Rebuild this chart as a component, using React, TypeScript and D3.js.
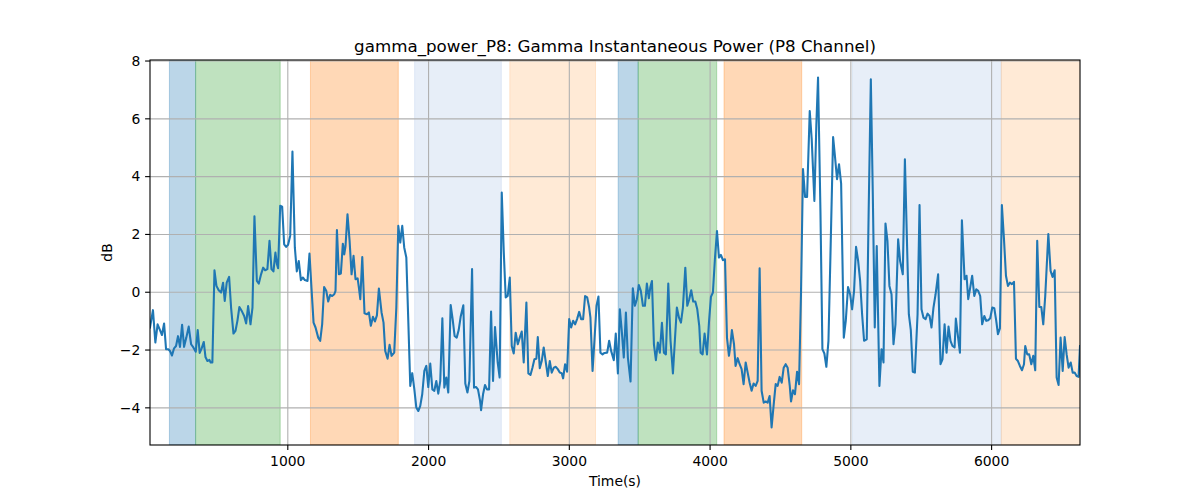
import React from "react";
import * as d3 from "d3";

// [time (s), gamma power (dB)]
const samples: [number, number][] = [
  [21, -1.22], [33, -0.88], [42, -0.62], [59, -1.74], [75, -1.11], [92, -1.31], [106, -1.48], [121, -1.08],
  [135, -1.97], [151, -1.97], [163, -2.03], [177, -2.19], [192, -1.94], [206, -1.86], [220, -1.52], [234, -1.89],
  [249, -1.13], [263, -1.89], [279, -1.57], [296, -1.19], [313, -1.8], [329, -1.91], [346, -2.06], [360, -1.31],
  [374, -2.1], [388, -1.94], [403, -1.72], [415, -2.24], [429, -2.38], [443, -2.34], [452, -2.43], [464, -2.43],
  [479, 0.76], [493, 0.22], [509, 0.07], [526, -0.01], [540, 0.33], [552, -0.3], [566, 0.33], [583, 0.53],
  [597, -0.53], [614, -1.43], [628, -1.34], [642, -0.99], [656, -0.51], [675, -0.67], [690, -0.82], [704, -1.08],
  [718, -0.48], [735, -1.11], [749, -0.53], [763, 2.63], [780, 0.39], [794, 0.3], [810, 0.62], [825, 0.85],
  [839, 0.76],
  [855, 0.8], [870, 1.78], [884, 0.8], [898, 0.72], [912, 1.37], [922, 0.99], [931, 0.83], [946, 2.99],
  [960, 2.96], [974, 1.66], [988, 1.57], [1002, 1.64], [1017, 1.95], [1033, 4.87], [1050, 1.55], [1064, 0.72],
  [1078, 1.08], [1093, 0.42], [1107, 0.51], [1121, 0.42], [1140, 0.39], [1154, 1.34], [1168, 0.16], [1183, -1.05],
  [1197, -1.22], [1216, -1.57], [1230, -1.68], [1244, -1.11], [1258, 0.18], [1273, 0.05], [1287, -0.32], [1301, -0.09],
  [1315, -0.13], [1330, -0.07], [1339, 0.05], [1349, 2.15], [1363, 0.62], [1377, 0.65], [1391, 1.68], [1401, 1.31],
  [1410, 1.6], [1424, 2.7], [1439, 1.78], [1453, 0.62], [1467, 1.26], [1481, 0.45], [1496, 0.48], [1505, 0.16],
  [1515, -0.24], [1529, 1.22], [1545, -0.73], [1562, -0.76], [1576, -0.7], [1590, -1.16], [1605, -0.85], [1619, -1.01],
  [1633, -0.8], [1647, 0.13],
  [1666, -0.7], [1680, -1.05], [1692, -2.03], [1709, -2.3], [1723, -1.82], [1737, -2.2], [1756, -2.09], [1771, -0.53],
  [1785, 2.3], [1799, 1.72], [1813, 2.3], [1827, 1.55], [1842, 1.2], [1856, -0.99], [1870, -3.24], [1884, -2.8],
  [1899, -3.36], [1913, -3.99], [1927, -4.11], [1941, -3.93], [1955, -3.53], [1970, -2.72], [1984, -2.55], [1998, -3.28],
  [2012, -2.47], [2027, -3.36], [2041, -3.41], [2055, -3.07], [2069, -3.51], [2083, -3.07], [2098, -0.9], [2112, -3.3],
  [2126, -2.95], [2140, -3.47], [2157, -0.44], [2171, -0.93], [2185, -1.51], [2200, -1.57], [2214, -1.31], [2228, -0.85],
  [2247, -0.45], [2261, -3.16], [2276, -3.47], [2290, -3.07], [2309, 0.8], [2323, -3.3], [2337, -3.28], [2351, -3.36],
  [2366, -3.76], [2373, -4.08], [2387, -3.53], [2401, -3.21], [2415, -3.36], [2430, -3.36], [2444, -0.67], [2458, -3.07],
  [2472, -1.2],
  [2491, -2.43], [2505, -2.95], [2520, 3.45], [2534, 1.43], [2548, -0.18], [2562, -0.13], [2577, 0.51], [2591, -1.86],
  [2605, -2.12], [2619, -1.4], [2634, -1.8], [2648, -1.57], [2662, -1.36], [2676, -2.43], [2695, -0.36], [2709, -2.81],
  [2724, -2.86], [2738, -2.61], [2752, -2.32], [2766, -2.3], [2776, -1.55], [2790, -2.63], [2804, -2.38], [2818, -1.91],
  [2833, -2.43], [2847, -2.9], [2861, -2.38], [2875, -2.78], [2890, -2.61], [2904, -2.58], [2918, -2.66], [2932, -2.78],
  [2946, -2.8], [2956, -2.98], [2970, -2.49], [2984, -2.75], [2999, -0.93], [3013, -1.22], [3027, -0.99], [3041, -1.11],
  [3055, -0.93], [3070, -0.68], [3084, -0.93], [3098, -0.93], [3112, -0.13], [3127, -0.18], [3141, -0.53], [3150, -0.88],
  [3165, -2.72], [3179, -1.63], [3193, -0.47], [3207, -0.15], [3221, -2.09], [3236, -2.15], [3250, -2.1], [3269, -2.09],
  [3283, -1.68], [3297, -2.03],
  [3316, -2.35], [3330, -1.43], [3345, -2.81], [3359, -0.59], [3373, -1.36], [3387, -2.26], [3402, -0.7], [3416, -2.26],
  [3435, -3.09], [3451, 0.14], [3466, -0.47], [3480, -0.24], [3494, 0.25], [3508, 0.05], [3523, -0.47], [3537, -0.47],
  [3551, 0.3], [3565, -0.21], [3575, 0.16], [3587, 0.39], [3601, -1.8], [3615, -2.35], [3629, -1.74], [3643, -2.09],
  [3658, -1.06], [3672, -2.09], [3686, -2.15], [3703, 0.3], [3719, -1.68], [3736, -2.81], [3750, -1.66], [3764, -0.53],
  [3779, -0.88], [3793, -1.05], [3807, -0.53], [3824, 0.85], [3838, -0.47], [3852, -0.24], [3866, 0.07], [3880, -0.32],
  [3895, -0.32], [3909, -0.59], [3923, -1.16], [3933, -2.09], [3947, -2.15], [3961, -1.43], [3978, -2.15], [3992, -1.05],
  [4006, -0.16], [4020, -0.01], [4035, 1.2], [4049, 2.12], [4063, 1.2], [4077, 1.29], [4091, 1.11], [4106, 1.14],
  [4120, -1.57], [4134, -2.2],
  [4144, -1.86], [4155, -1.31], [4170, -1.8], [4181, -2.55], [4196, -2.28], [4210, -2.49], [4224, -2.66], [4238, -3.18],
  [4253, -2.43], [4267, -2.78], [4281, -3.13], [4295, -3.41], [4309, -3.16], [4324, -3.24], [4338, -3.07], [4352, 0.83],
  [4366, -3.41], [4381, -3.82], [4395, -3.78], [4409, -3.82], [4423, -3.59], [4437, -4.68], [4452, -3.88], [4466, -3.18],
  [4480, -3.24], [4494, -2.93], [4509, -3.13], [4523, -2.61], [4537, -2.49], [4551, -2.61], [4566, -3.24], [4575, -3.78],
  [4589, -3.39], [4603, -3.53], [4618, -2.75], [4632, -3.18], [4646, -0.01], [4660, 4.26], [4675, 3.3], [4689, 3.3],
  [4708, 6.27], [4722, 5.29], [4741, 3.16], [4755, 5.81], [4767, 7.43], [4784, 2.81], [4798, -1.97], [4812, -2.12],
  [4826, -2.58], [4841, -1.68], [4855, 1.26], [4874, 5.37], [4888, 4.66], [4902, 3.91], [4916, 4.43], [4931, 3.76],
  [4950, -1.57], [4964, -0.99],
  [4980, 0.18], [4995, -0.07], [5009, -0.59], [5023, 0.05], [5037, 1.57], [5052, 1.08], [5066, 0.39], [5080, -0.76],
  [5094, -1.68], [5113, -1.63], [5127, 2.93], [5142, 7.37], [5156, 3.39], [5170, -1.22], [5184, 1.6], [5203, -3.24],
  [5218, -1.97], [5232, -2.43], [5246, 2.38], [5260, 1.78], [5274, 0.22], [5289, -0.07], [5303, -1.8], [5317, -1.11],
  [5336, 1.83], [5350, 1.08], [5369, 0.62], [5384, 4.6], [5398, 1.89], [5412, -0.76], [5426, -1.31], [5440, -2.75],
  [5455, -2.78], [5474, -0.76], [5488, 3.02], [5502, -0.59], [5516, -0.88], [5531, -0.93], [5545, -0.74], [5559, -0.82],
  [5573, -1.22], [5587, -0.53], [5602, -0.07], [5620, 0.62], [5637, -2.49], [5651, -2.32], [5666, -1.11], [5680, -2.09],
  [5694, -1.19], [5708, -1.68], [5722, -1.86], [5737, -1.91], [5746, -0.91], [5760, -1.48], [5775, -2.09], [5789, 2.49],
  [5808, 0.45], [5822, 0.57], [5834, -0.24], [5848, 0.16], [5862, 0.57], [5877, -0.13], [5891, 0.1], [5905, 0.05],
  [5919, -0.13], [5933, -1.11], [5948, -0.82], [5962, -0.99], [5976, -0.97], [5990, -0.9], [6005, -0.53], [6019, -0.55],
  [6033, -0.99], [6045, -1.45], [6059, -1.25], [6073, 3.02], [6088, 1.83], [6102, 0.57], [6116, 0.22], [6130, 0.33],
  [6144, 0.28], [6159, 0.36], [6173, -2.3], [6187, -2.38], [6201, -2.55], [6216, -2.7], [6230, -2.49], [6239, -1.86],
  [6253, -2.15], [6267, -2.15], [6282, -2.49], [6296, -2.2], [6310, -2.7], [6324, 1.78], [6339, -0.51], [6353, -0.51],
  [6367, -1.11], [6381, -0.13], [6403, 2.01], [6419, 0.74], [6433, 0.53], [6448, 0.76], [6462, -2.95], [6476, -3.21],
  [6490, -1.57], [6505, -2.72], [6519, -1.55], [6533, -2.15], [6547, -2.61], [6562, -2.43], [6576, -2.78], [6590, -2.78],
  [6604, -2.9], [6618, -2.93], [6628, -1.86],
];

// shaded state intervals: [start, end, kind]
const bands: [number, number, string][] = [
  [159, 345, "blue"], [345, 946, "green"], [1161, 1785, "orange"], [1901, 2517, "lightblue"],
  [2577, 3186, "lightorange"], [3347, 3489, "blue"], [3489, 4047, "green"], [4099, 4651, "orange"],
  [5010, 6069, "lightblue"], [6069, 6640, "lightorange"],
];

const xTicks = [1000, 2000, 3000, 4000, 5000, 6000];
const yTicks = [-4, -2, 0, 2, 4, 6, 8];

const bandColor: Record<string, string> = {
  blue: "#1f77b4",
  green: "#2ca02c",
  orange: "#ff7f0e",
  lightblue: "#aec7e8",
  lightorange: "#ffbb78",
};

const W = 1200;
const H = 500;
const L = 150, R = 1080, T = 60, B = 445;
const font = "DejaVu Sans, sans-serif";

export default function App() {
  const x = d3.scaleLinear()
    .domain(d3.extent(samples, d => d[0]) as [number, number])
    .range([L, R]);

  // matplotlib-style 5% y margin
  const [lo, hi] = d3.extent(samples, d => d[1]) as [number, number];
  const pad = (hi - lo) * 0.05;
  const y = d3.scaleLinear().domain([lo - pad, hi + pad]).range([B, T]);

  const line = d3.line<[number, number]>().x(d => x(d[0])).y(d => y(d[1]));
  const fmt = d3.format("d");

  return (
    <svg width={W} height={H} style={{ position: "absolute", left: 0, top: 0, background: "#fff" }}
      fontFamily={font}>
      <defs>
        <clipPath id="plot">
          <rect x={L} y={T} width={R - L} height={B - T} />
        </clipPath>
      </defs>

      <g clipPath="url(#plot)">
        {bands.map(([s, e, k], i) => (
          <rect key={i} x={x(s)} y={T} width={x(e) - x(s)} height={B - T}
            fill={bandColor[k]} fillOpacity={0.3}
            stroke={bandColor[k]} strokeOpacity={0.3} strokeWidth={1} />
        ))}

        {xTicks.map(t => (
          <line key={"gx" + t} x1={x(t)} x2={x(t)} y1={T} y2={B} stroke="#b0b0b0" strokeWidth={1.1} />
        ))}
        {yTicks.map(t => (
          <line key={"gy" + t} x1={L} x2={R} y1={y(t)} y2={y(t)} stroke="#b0b0b0" strokeWidth={1.1} />
        ))}

        <path d={line(samples) ?? ""} fill="none" stroke="#1f77b4" strokeWidth={2.08}
          strokeLinejoin="round" strokeLinecap="square" />
      </g>

      <rect x={L} y={T} width={R - L} height={B - T} fill="none" stroke="#000" strokeWidth={1.1} />

      {xTicks.map(t => (
        <g key={"tx" + t}>
          <line x1={x(t)} x2={x(t)} y1={B} y2={B + 4.9} stroke="#000" strokeWidth={1.1} />
          <text x={x(t)} y={B + 21} textAnchor="middle" fontSize={13.9}>{fmt(t)}</text>
        </g>
      ))}
      {yTicks.map(t => (
        <g key={"ty" + t}>
          <line x1={L - 4.9} x2={L} y1={y(t)} y2={y(t)} stroke="#000" strokeWidth={1.1} />
          <text x={L - 9.7} y={y(t)} dy="0.35em" textAnchor="end" fontSize={13.9}>{fmt(t)}</text>
        </g>
      ))}

      <text x={(L + R) / 2} y={486} textAnchor="middle" fontSize={13.9}>Time(s)</text>
      <text transform={`translate(112,${(T + B) / 2}) rotate(-90)`} textAnchor="middle" fontSize={13.9}>dB</text>
      <text x={(L + R) / 2} y={52} textAnchor="middle" fontSize={16.7}>
        gamma_power_P8: Gamma Instantaneous Power (P8 Channel)
      </text>
    </svg>
  );
}
